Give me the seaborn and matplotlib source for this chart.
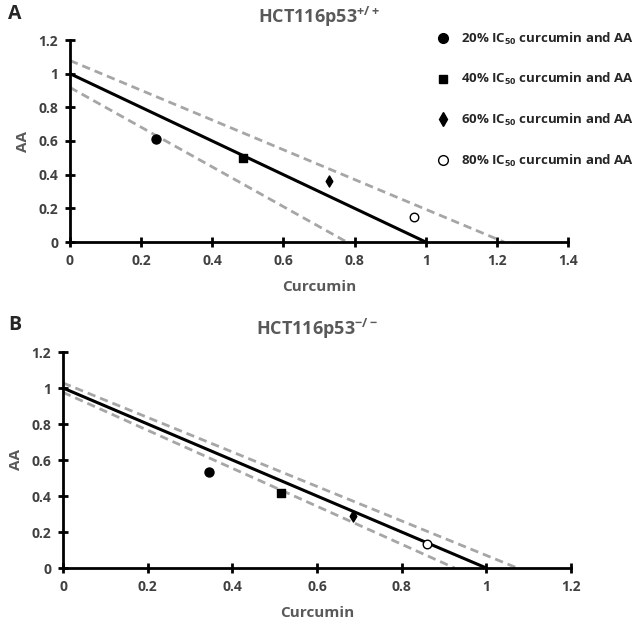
import numpy as np
import pandas as pd
import matplotlib
matplotlib.use("Agg")
import matplotlib.pyplot as plt
from matplotlib.lines import Line2D
from matplotlib.ticker import FuncFormatter
import seaborn as sns

# data
levels = ["20%", "40%", "60%", "80%"]
curcumin_a = [0.242, 0.487, 0.727, 0.968]
aa_a = [0.614, 0.50, 0.363, 0.149]
curcumin_b = [0.345, 0.514, 0.685, 0.860]
aa_b = [0.533, 0.419, 0.288, 0.135]

# additivity line and its confidence bounds (x, y end points)
additive_x = [0, 1.0]
additive_y = [1.0, 0]
upper_a_x = [0, 1.22]
upper_a_y = [1.078, 0]
lower_a_x = [0, 0.778]
lower_a_y = [0.918, 0]
upper_b_x = [0, 1.073]
upper_b_y = [1.028, 0]
lower_b_x = [0, 0.925]
lower_b_y = [0.976, 0]

sns.set_style("white")
plt.rcParams["font.family"] = ["Open Sans", "DejaVu Sans"]
plt.rcParams["font.weight"] = "bold"
plt.rcParams["mathtext.fontset"] = "custom"
plt.rcParams["mathtext.rm"] = "Open Sans:bold"
plt.rcParams["mathtext.bf"] = "Open Sans:bold"
plt.rcParams["mathtext.it"] = "Open Sans:bold"
plt.rcParams["mathtext.default"] = "rm"

palette = {"20%": "black", "40%": "black", "60%": "black", "80%": "white"}
markers = {"20%": "o", "40%": "s", "60%": "d", "80%": "o"}
sizes = {"20%": 42, "40%": 30, "60%": 32, "80%": 38}

fig = plt.figure(figsize=(6.38, 6.25), dpi=100)
ax_a = fig.add_axes([70 / 638, 1 - 242 / 625, 498 / 638, 202 / 625])
ax_b = fig.add_axes([63 / 638, 1 - 568 / 625, 508 / 638, 216 / 625])


def draw_panel(ax, cx, cy, up_x, up_y, lo_x, lo_y, xmax, title):
    lines = pd.DataFrame({
        "x": additive_x + up_x + lo_x,
        "y": additive_y + up_y + lo_y,
        "kind": ["add"] * 2 + ["up"] * 2 + ["lo"] * 2,
    })
    sns.lineplot(data=lines[lines.kind == "add"], x="x", y="y", ax=ax,
                 color="black", lw=2.2, legend=False)
    for k in ["up", "lo"]:
        sns.lineplot(data=lines[lines.kind == k], x="x", y="y", ax=ax,
                     color="#a6a6a6", lw=2, legend=False,
                     linestyle=(0, (3, 1.8)))
    pts = pd.DataFrame({"curcumin": cx, "aa": cy, "level": levels})
    for lv in levels:
        sub = pts[pts.level == lv]
        sns.scatterplot(data=sub, x="curcumin", y="aa", ax=ax,
                        marker=markers[lv], color=palette[lv],
                        edgecolor="black", linewidth=1, s=sizes[lv],
                        legend=False, zorder=5)
    ax.set_xlim(0, xmax)
    ax.set_ylim(0, 1.2)
    ax.set_xticks(np.arange(0, xmax + 0.01, 0.2))
    ax.set_yticks(np.arange(0, 1.21, 0.2))
    fmt = FuncFormatter(lambda v, p: ("%.1f" % v).rstrip("0").rstrip(".") if v != 0 else "0")
    ax.xaxis.set_major_formatter(fmt)
    ax.yaxis.set_major_formatter(fmt)
    for side in ["top", "right"]:
        ax.spines[side].set_visible(False)
    for side in ["left", "bottom"]:
        ax.spines[side].set_linewidth(2)
        ax.spines[side].set_color("black")
    ax.tick_params(axis="both", direction="inout", length=7, width=2,
                   color="black", labelsize=10, labelcolor="#404040",
                   bottom=True, left=True, pad=5)
    for lab in ax.get_xticklabels() + ax.get_yticklabels():
        lab.set_fontweight("bold")
    ax.set_xlabel("Curcumin", fontsize=11, color="#595959",
                  fontweight="bold", labelpad=9)
    ax.set_ylabel("AA", fontsize=11, color="#595959",
                  fontweight="bold", labelpad=6)
    ax.set_title(title, fontsize=13, color="#595959", fontweight="bold", pad=12)


draw_panel(ax_a, curcumin_a, aa_a, upper_a_x, upper_a_y, lower_a_x, lower_a_y,
           1.4, r"HCT116p53$^{+/+}$")
draw_panel(ax_b, curcumin_b, aa_b, upper_b_x, upper_b_y, lower_b_x, lower_b_y,
           1.2, r"HCT116p53$^{-/-}$")

handles = [
    Line2D([], [], ls="", marker=markers[lv], markersize=7 if lv != "40%" else 6,
           markerfacecolor=palette[lv], markeredgecolor="black", markeredgewidth=1)
    for lv in levels
]
labels = [lv + r" IC$_{50}$ curcumin and AA" for lv in levels]
fig.legend(handles, labels, loc="upper left", bbox_to_anchor=(425 / 638, 1 - 19 / 625),
           frameon=False, fontsize=9.5, labelspacing=1.85, handletextpad=0.8,
           handlelength=1.0, labelcolor="#262626")

fig.text(8 / 638, 1 - 14 / 625, "A", fontsize=14, fontweight="bold", va="center")
fig.text(8 / 638, 1 - 325 / 625, "B", fontsize=14, fontweight="bold", va="center")

fig.savefig("out.png", dpi=100)
